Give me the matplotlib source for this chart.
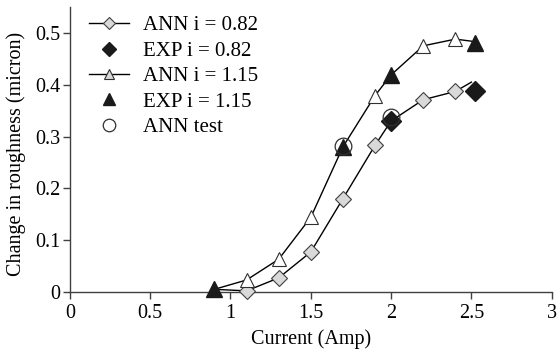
import matplotlib.pyplot as plt

plt.rcParams["font.family"] = ["Liberation Serif", "DejaVu Serif"]

# ANN curves; markers drawn at selected indices
ann082_x = [0.9, 1.1, 1.3, 1.5, 1.7, 1.9, 2.0, 2.2, 2.4, 2.5]
ann082_y = [0.005, 0.002, 0.027, 0.077, 0.180, 0.283, 0.330, 0.371, 0.387, 0.405]
ann082_marks = [1, 2, 3, 4, 5, 7, 8]

ann115_x = [0.9, 1.1, 1.3, 1.5, 1.7, 1.9, 2.0, 2.2, 2.4, 2.5]
ann115_y = [0.005, 0.023, 0.063, 0.144, 0.280, 0.379, 0.419, 0.475, 0.488, 0.484]
ann115_marks = [1, 2, 3, 5, 7, 8]

exp082_x = [2.0, 2.52]
exp082_y = [0.329, 0.387]

exp115_x = [0.9, 1.7, 2.0, 2.52]
exp115_y = [0.005, 0.279, 0.419, 0.481]

test_x = [1.7, 2.0]
test_y = [0.281, 0.338]

fig = plt.figure(figsize=(5.59, 3.5), dpi=100)
ax = fig.add_axes([0.125, 0.166, 0.862, 0.814])

ax.plot(ann082_x, ann082_y, color="black", lw=1.0, marker="D", markersize=8,
        markerfacecolor="#d9d9d9", markeredgecolor="#404040", markeredgewidth=0.8,
        markevery=ann082_marks, label="ANN i = 0.82", clip_on=False, zorder=3)
ax.plot(exp082_x, exp082_y, ls="none", marker="D", markersize=10,
        color="#1a1a1a", label="EXP i = 0.82", clip_on=False, zorder=4)
ax.plot(ann115_x, ann115_y, color="black", lw=1.0, marker="^", markersize=10,
        markerfacecolor="white", markeredgecolor="#303030", markeredgewidth=0.8,
        markevery=ann115_marks, label="ANN i = 1.15", clip_on=False, zorder=3)
ax.plot(exp115_x, exp115_y, ls="none", marker="^", markersize=11,
        color="#1a1a1a", label="EXP i = 1.15", clip_on=False, zorder=4)
ax.plot(test_x, test_y, ls="none", marker="o", markersize=12,
        markerfacecolor="none", markeredgecolor="#303030", markeredgewidth=0.9,
        label="ANN test", clip_on=False, zorder=5)

ax.set_xlim(0, 3)
ax.set_ylim(0, 0.55)
ax.set_xticks([0, 0.5, 1, 1.5, 2, 2.5, 3])
ax.set_xticklabels(["0", "0.5", "1", "1.5", "2", "2.5", "3"])
ax.set_yticks([0, 0.1, 0.2, 0.3, 0.4, 0.5])
ax.set_yticklabels(["0", "0.1", "0.2", "0.3", "0.4", "0.5"])

for s in ["top", "right"]:
    ax.spines[s].set_visible(False)
for s in ["left", "bottom"]:
    ax.spines[s].set_color("#404040")
    ax.spines[s].set_linewidth(1.0)
ax.tick_params(direction="out", length=5, width=1.0, color="#404040",
               labelsize=14.5)
ax.tick_params(axis="x", pad=4)
ax.tick_params(axis="y", pad=2)

ax.set_xlabel("Current (Amp)", fontsize=14.5, labelpad=4)
ax.set_ylabel("Change in roughness (micron)", fontsize=14.5)
ax.yaxis.set_label_coords(-0.092, 0.485)

leg = ax.legend(loc="upper left", bbox_to_anchor=(0.01, 1.02), frameon=False,
                fontsize=15, handlelength=1.9, handletextpad=0.7,
                labelspacing=0.28, borderaxespad=0.3, markerscale=0.75)
leg.legend_handles[2].set_markerfacecolor("#d9d9d9")

fig.savefig("out.png", dpi=100)
